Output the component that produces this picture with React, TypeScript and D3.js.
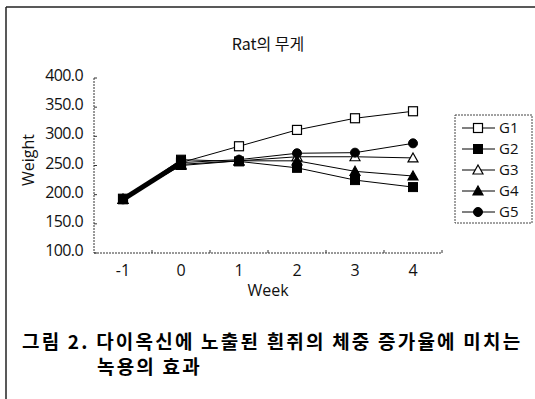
import React from "react";
import * as d3 from "d3";

const weeks = ["-1", "0", "1", "2", "3", "4"];
const seriesNames = ["G1", "G2", "G3", "G4", "G5"];
const g1 = [193, 255, 283, 311, 331, 343];
const g2 = [192, 260, 257, 246, 225, 213];
const g3 = [192, 250, 258, 265, 265, 263];
const g4 = [192, 252, 258, 258, 240, 232];
const g5 = [192, 255, 260, 271, 272, 288];
const yTicks = [100, 150, 200, 250, 300, 350, 400];
const markers = ["squareOpen", "squareFilled", "triangleOpen", "triangleFilled", "circleFilled"];

const allSeries = [g1, g2, g3, g4, g5];

function Marker({ type, x, y }: { type: string; x: number; y: number }) {
  const s = 4.5;
  if (type === "squareOpen")
    return <rect x={x - s} y={y - s} width={2 * s} height={2 * s} fill="#fff" stroke="#000" strokeWidth={1.2} />;
  if (type === "squareFilled")
    return <rect x={x - s} y={y - s} width={2 * s} height={2 * s} fill="#000" stroke="#000" />;
  if (type === "triangleOpen" || type === "triangleFilled") {
    const p = `${x},${y - s - 0.5} ${x + s + 0.5},${y + s - 0.5} ${x - s - 0.5},${y + s - 0.5}`;
    return <polygon points={p} fill={type === "triangleOpen" ? "#fff" : "#000"} stroke="#000" strokeWidth={1.2} />;
  }
  return <circle cx={x} cy={y} r={s} fill="#000" stroke="#000" />;
}

export default function App() {
  const W = 535, H = 399;
  const left = 94, right = 442, top = 78, bottom = 253;
  const x = d3.scaleBand().domain(weeks).range([left, right]);
  const y = d3.scaleLinear().domain([100, 400]).range([bottom, top]);
  const cx = (w: string) => (x(w) as number) + x.bandwidth() / 2;
  const line = d3
    .line<number>()
    .x((_, i) => cx(weeks[i]))
    .y((d) => y(d));
  const font = "'Open Sans', 'Noto Sans', sans-serif";
  const kfont = "'Noto Sans CJK KR', sans-serif";
  const boundaries = weeks.map((w) => (x(w) as number) + x.bandwidth());

  return (
    <svg width={W} height={H} style={{ position: "absolute", left: 0, top: 0 }}>
      <rect x={0} y={0} width={W} height={H} fill="#fff" />
      {/* frame */}
      <line x1={6} y1={7} x2={W} y2={7} stroke="#222" strokeWidth={1.5} />
      <line x1={6} y1={7} x2={6} y2={H} stroke="#222" strokeWidth={1.5} />

      <text x={268} y={50} textAnchor="middle" fontFamily={kfont} fontSize={16} fill="#111">
        Rat의 무게
      </text>

      {/* axes */}
      <line x1={left} y1={top} x2={left} y2={bottom} stroke="#333" strokeDasharray="2,1" />
      <line x1={left} y1={bottom} x2={right} y2={bottom} stroke="#333" strokeDasharray="2,1" />
      {yTicks.map((t) => (
        <g key={t}>
          <line x1={left} x2={left + 3} y1={y(t)} y2={y(t)} stroke="#333" />
          <text x={83} y={y(t) + 3} textAnchor="end" fontFamily={font} fontSize={16} letterSpacing={-0.6} fill="#111">
            {t.toFixed(1)}
          </text>
        </g>
      ))}
      {boundaries.map((b, i) => (
        <line key={i} x1={b} x2={b} y1={bottom} y2={bottom - 3} stroke="#333" />
      ))}
      {weeks.map((w) => (
        <text key={w} x={cx(w)} y={276} textAnchor="middle" fontFamily={font} fontSize={16} fill="#111">
          {w}
        </text>
      ))}
      <text x={268} y={296} textAnchor="middle" fontFamily={font} fontSize={16} fill="#111">
        Week
      </text>
      <text transform={`translate(34,160) rotate(-90)`} textAnchor="middle" fontFamily={font} fontSize={16} fill="#111">
        Weight
      </text>

      {/* series */}
      {allSeries.map((s, si) => (
        <path key={si} d={line(s) as string} fill="none" stroke="#000" strokeWidth={1} />
      ))}
      <line x1={cx("-1")} y1={y(192)} x2={cx("0")} y2={y(255)} stroke="#000" strokeWidth={5} />
      {allSeries.map((s, si) =>
        s.map((v, i) => <Marker key={`${si}-${i}`} type={markers[si]} x={cx(weeks[i])} y={y(v)} />)
      )}

      {/* legend */}
      <rect x={455} y={115} width={77} height={108} fill="none" stroke="#444" strokeDasharray="2,1" />
      {seriesNames.map((n, i) => {
        const ly = 128 + i * 21;
        return (
          <g key={n}>
            <line x1={462} x2={495} y1={ly} y2={ly} stroke="#000" />
            <Marker type={markers[i]} x={478} y={ly} />
            <text x={499} y={ly + 5} fontFamily={font} fontSize={15} fill="#111">
              {n}
            </text>
          </g>
        );
      })}

      {/* caption */}
      <text x={22} y={349} fontFamily={kfont} fontWeight="bold" fontSize={19} letterSpacing={2.2} fill="#000">
        그림 2. 다이옥신에 노출된 흰쥐의 체중 증가율에 미치는
      </text>
      <text x={97} y={374} fontFamily={kfont} fontWeight="bold" fontSize={19} letterSpacing={2.2} fill="#000">
        녹용의 효과
      </text>
    </svg>
  );
}
